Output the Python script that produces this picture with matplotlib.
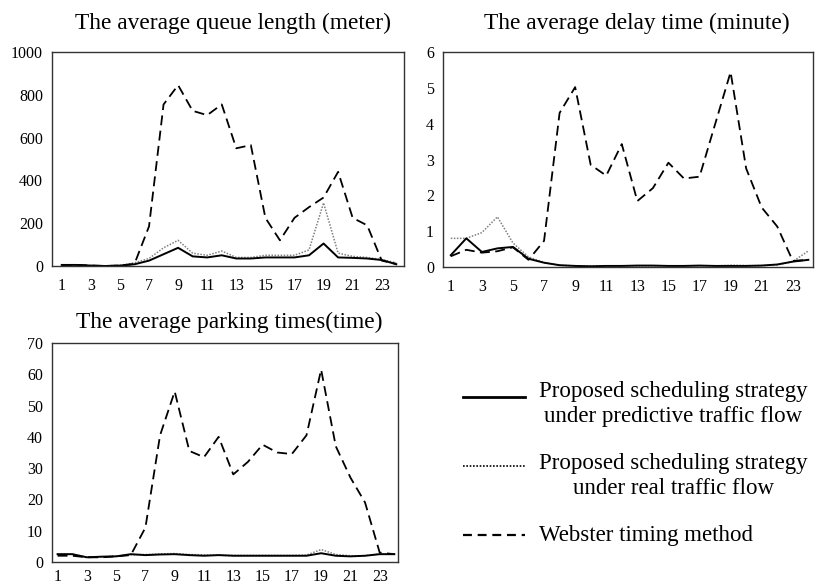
import matplotlib
matplotlib.use("Agg")
import matplotlib.pyplot as plt
from matplotlib.lines import Line2D

plt.rcParams['font.family'] = ['Liberation Serif', 'DejaVu Serif']

hours = list(range(1, 25))
xtick_labels = [str(h) for h in range(1, 24, 2)]

queue_pred = [5, 5, 2, 0, 2, 8, 25, 55, 85, 45, 40, 50, 35, 35, 40, 40, 40, 50, 105, 40, 38, 35, 28, 8]
queue_real = [4, 4, 2, 1, 3, 15, 35, 85, 120, 60, 50, 70, 40, 40, 50, 50, 50, 75, 295, 60, 45, 40, 30, 15]
queue_webster = [5, 5, 2, 0, 2, 10, 185, 755, 845, 725, 705, 755, 550, 565, 225, 120, 225, 275, 320, 440, 225, 190, 25, 10]

delay_pred = [0.33, 0.80, 0.42, 0.52, 0.56, 0.23, 0.12, 0.05, 0.03, 0.02, 0.03, 0.03, 0.04, 0.04, 0.03, 0.03, 0.04, 0.03, 0.03, 0.03, 0.04, 0.07, 0.15, 0.20]
delay_real = [0.80, 0.80, 0.96, 1.40, 0.67, 0.28, 0.12, 0.05, 0.03, 0.03, 0.03, 0.03, 0.03, 0.03, 0.03, 0.03, 0.03, 0.03, 0.05, 0.04, 0.04, 0.06, 0.15, 0.45]
delay_webster = [0.30, 0.48, 0.40, 0.44, 0.55, 0.20, 0.73, 4.30, 5.02, 2.85, 2.55, 3.43, 1.84, 2.20, 2.91, 2.47, 2.52, 3.98, 5.44, 2.75, 1.66, 1.13, 0.17, 0.20]

park_pred = [2.5, 2.5, 1.5, 1.7, 1.8, 2.5, 2.2, 2.4, 2.5, 2.2, 2.0, 2.2, 2.0, 2.0, 2.0, 2.0, 2.0, 2.0, 2.8, 2.0, 1.8, 2.0, 2.5, 2.5]
park_real = [2.5, 2.6, 1.5, 1.7, 1.9, 2.3, 2.4, 2.6, 2.7, 2.4, 2.3, 2.2, 2.1, 2.1, 2.1, 2.1, 2.1, 2.2, 4.0, 2.4, 2.0, 2.0, 2.6, 2.5]
park_webster = [2.0, 2.0, 1.5, 1.5, 1.8, 2.2, 11, 40.5, 54.5, 35.5, 33.5, 40, 28, 32, 37.5, 35, 34.5, 40.5, 61.5, 37, 27, 19, 3, 2.5]

titles = ["The average queue length (meter)",
          "The average delay time (minute)",
          "The average parking times(time)"]
legend_labels = ["Proposed scheduling strategy\nunder predictive traffic flow",
                 "Proposed scheduling strategy\nunder real traffic flow",
                 "Webster timing method"]

W, H = 820, 585
fig = plt.figure(figsize=(W / 100, H / 100), dpi=100)


def box(l, t, r, b):
    return [l / W, 1 - b / H, (r - l) / W, (b - t) / H]


def fx(x):
    return x / W


def fy(y):
    return 1 - y / H


STY_PRED = dict(color='black', lw=1.4, ls='-')
STY_REAL = dict(color='#808080', lw=1.1, ls=(0, (1, 1)))
STY_WEB = dict(color='black', lw=1.3, ls=(0, (5.5, 3)))

panels = [
    (box(52, 52, 404, 266), (0.33, 24.53), (0, 1000), list(range(0, 1001, 200)),
     queue_pred, queue_real, queue_webster, 9.0),
    (box(443, 52, 813, 267), (0.5, 24.3), (0, 6), list(range(0, 7)),
     delay_pred, delay_real, delay_webster, 9.0),
    (box(52, 343, 398, 562), (0.62, 24.25), (0, 70), list(range(0, 71, 10)),
     park_pred, park_real, park_webster, 5.0),
]

for rect, xl, yl, yt, p, r, w, xpad in panels:
    ax = fig.add_axes(rect)
    ax.plot(hours, r, **STY_REAL)
    ax.plot(hours, w, **STY_WEB)
    ax.plot(hours, p, **STY_PRED)
    ax.set_xlim(*xl)
    ax.set_ylim(*yl)
    ax.set_yticks(yt)
    ax.set_xticks(list(range(1, 24, 2)))
    ax.set_xticklabels(xtick_labels)
    ax.tick_params(length=0, labelsize=11.5)
    ax.tick_params(axis='y', pad=6.5)
    ax.tick_params(axis='x', pad=xpad)
    for s in ax.spines.values():
        s.set_color('#333333')
        s.set_linewidth(1.0)

# titles
fig.text(fx(233), fy(23), titles[0], ha='center', va='center', fontsize=16.8)
fig.text(fx(637), fy(23), titles[1], ha='center', va='center', fontsize=16.8)
fig.text(fx(229), fy(322), titles[2], ha='center', va='center', fontsize=16.8)

# legend (manual)
hx0, hx1 = 463, 525
handle_y = [397, 466, 535]
text_y = [404, 476, 535]
styles = [dict(color='black', lw=2.0, ls='-'),
          dict(color='black', lw=1.2, ls=(0, (1, 1))),
          dict(color='black', lw=1.6, ls=(0, (4, 2.6)))]
for hy, ty, st, lab in zip(handle_y, text_y, styles, legend_labels):
    fig.add_artist(Line2D([fx(hx0), fx(hx1)], [fy(hy), fy(hy)], transform=fig.transFigure, **st))
    fig.text(fx(539), fy(ty), lab, ha='left', va='center', multialignment='center',
             fontsize=16.5, linespacing=1.2)

fig.savefig("out.png", dpi=100)
